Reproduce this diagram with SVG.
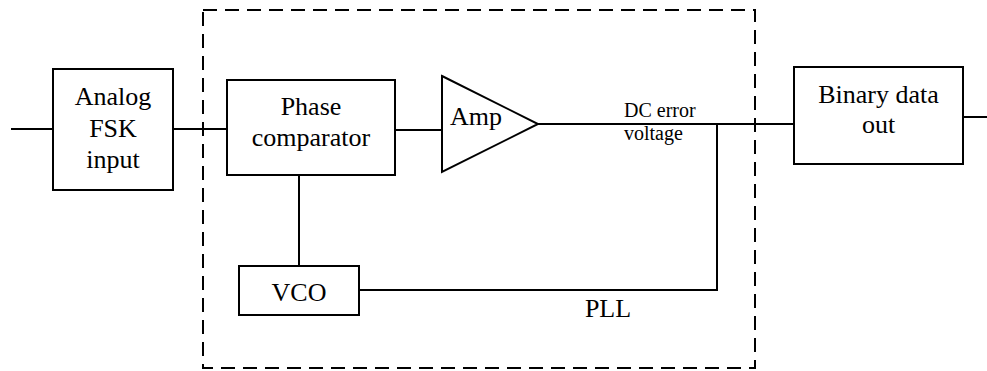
<svg xmlns="http://www.w3.org/2000/svg" width="987" height="371" viewBox="0 0 987 371">
<style>
.box{fill:#fff;stroke:#000;stroke-width:2}
.ln{fill:none;stroke:#000;stroke-width:2}
.dash{fill:none;stroke:#000;stroke-width:2;stroke-dasharray:14 8}
.t{font-size:26px;text-anchor:middle;fill:#000}
.s{font-size:20px;fill:#000}
</style>
<rect width="987" height="371" fill="#fff"/>
<g font-family="'Liberation Serif', Tinos, 'Times New Roman', 'DejaVu Serif', serif">
<g id="pll-boundary">
<rect class="dash" x="203" y="10" width="552" height="358"/>
<text class="t" x="608" y="317">PLL</text>
</g>
<g id="connectors">
<line class="ln" x1="11" y1="129" x2="53" y2="129"/>
<line class="ln" x1="173" y1="129" x2="227" y2="129"/>
<line class="ln" x1="395" y1="130" x2="442" y2="130"/>
<line class="ln" x1="538" y1="124" x2="794" y2="124"/>
<line class="ln" x1="963" y1="117" x2="987" y2="117"/>
<polyline class="ln" points="717,124 717,290 357,290"/>
<line class="ln" x1="299" y1="176" x2="299" y2="266"/>
<text class="s" x="624" y="117">DC error</text>
<text class="s" x="624" y="140">voltage</text>
</g>
<g id="analog-fsk-input">
<rect class="box" x="53" y="69" width="120" height="121"/>
<text class="t" x="113" y="105">Analog</text>
<text class="t" x="113" y="136.5">FSK</text>
<text class="t" x="113" y="167.5">input</text>
</g>
<g id="phase-comparator">
<rect class="box" x="227" y="80" width="168" height="95"/>
<text class="t" x="311" y="115">Phase</text>
<text class="t" x="311" y="145.5">comparator</text>
</g>
<g id="amp">
<polygon class="box" points="442,76 538,124 442,172"/>
<text class="t" x="476" y="125">Amp</text>
</g>
<g id="binary-data-out">
<rect class="box" x="794" y="67" width="169" height="97"/>
<text class="t" x="878.5" y="102.5">Binary data</text>
<text class="t" x="878.5" y="133">out</text>
</g>
<g id="vco">
<rect class="box" x="239" y="266" width="120" height="49"/>
<text class="t" x="299" y="300.5">VCO</text>
</g>
</g>
</svg>
